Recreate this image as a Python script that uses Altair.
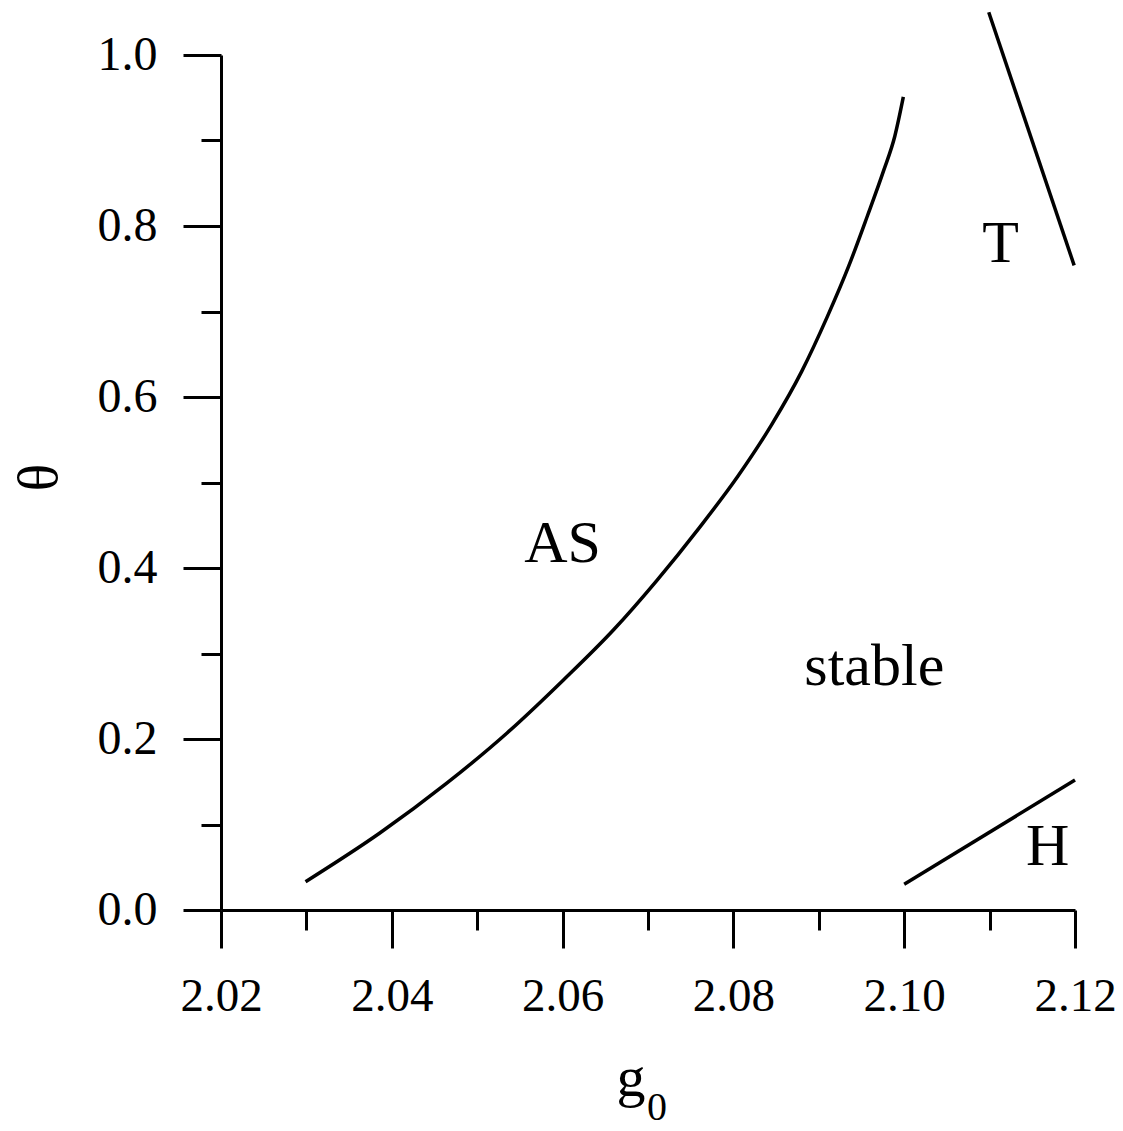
import altair as alt
import pandas as pd

# AS boundary curve
as_g0 = [2.0299, 2.0386, 2.0464, 2.0535, 2.0601, 2.0660, 2.0710, 2.0760, 2.0805,
         2.0845, 2.0880, 2.0910, 2.0935, 2.0957, 2.0976, 2.0989, 2.0999]
as_theta = [0.033, 0.090, 0.148, 0.207, 0.269, 0.328, 0.385, 0.447, 0.507,
            0.568, 0.630, 0.694, 0.753, 0.812, 0.865, 0.905, 0.951]
# T boundary
t_g0 = [2.1099, 2.1199]
t_theta = [1.050, 0.754]
# H boundary
h_g0 = [2.1000, 2.1200]
h_theta = [0.030, 0.152]

# region labels
lab_text = ["AS", "stable", "T", "H"]
lab_g0 = [2.0600, 2.0965, 2.1113, 2.1168]
lab_theta = [0.407, 0.263, 0.758, 0.053]

x_ticks = [2.02, 2.03, 2.04, 2.05, 2.06, 2.07, 2.08, 2.09, 2.10, 2.11, 2.12]
y_ticks = [0.0, 0.1, 0.2, 0.3, 0.4, 0.5, 0.6, 0.7, 0.8, 0.9, 1.0]

rows = []
for name, xs, ys in [("AS", as_g0, as_theta), ("T", t_g0, t_theta), ("H", h_g0, h_theta)]:
    for i, (a, b) in enumerate(zip(xs, ys)):
        rows.append({"curve": name, "g0": a, "theta": b, "order": i})
lines_df = pd.DataFrame(rows)
labels_df = pd.DataFrame({"text": lab_text, "g0": lab_g0, "theta": lab_theta})

FONT = "Liberation Serif"

x_scale = alt.Scale(domain=[2.02, 2.12], nice=False, zero=False)
y_scale = alt.Scale(domain=[0.0, 1.0], nice=False, zero=True)

x_axis = alt.Axis(
    values=x_ticks,
    title=None,
    grid=False,
    domainColor="black", domainWidth=3,
    tickColor="black", tickWidth=3,
    tickSize={"condition": {"test": "round(datum.value*100) % 2 == 0", "value": 38}, "value": 20},
    labelExpr="round(datum.value*100) % 2 == 0 ? format(datum.value, '.2f') : ''",
    labelFont=FONT, labelFontSize=47, labelColor="black",
    labelPadding=25, labelFlush=False, labelOverlap=False,
)
y_axis = alt.Axis(
    values=y_ticks,
    title="θ",
    titleFont=FONT, titleFontSize=58, titleFontWeight="normal", titleColor="black",
    titleAngle=270, titleAlign="center", titleBaseline="middle",
    titleX=-182, titleY=422,
    grid=False,
    domainColor="black", domainWidth=3,
    tickColor="black", tickWidth=3,
    tickSize={"condition": {"test": "round(datum.value*10) % 2 == 0", "value": 38}, "value": 20},
    labelExpr="round(datum.value*10) % 2 == 0 ? format(datum.value, '.1f') : ''",
    labelFont=FONT, labelFontSize=48, labelColor="black",
    labelPadding=26, labelFlush=False, labelOverlap=False,
)

lines = alt.Chart(lines_df).mark_line(color="black", strokeWidth=3.5, interpolate="monotone").encode(
    x=alt.X("g0:Q", scale=x_scale, axis=x_axis),
    y=alt.Y("theta:Q", scale=y_scale, axis=y_axis),
    detail="curve:N",
    order="order:Q",
)

labels = alt.Chart(labels_df).mark_text(
    font=FONT, fontSize=60, color="black", align="center", baseline="alphabetic"
).encode(
    x=alt.X("g0:Q", scale=x_scale),
    y=alt.Y("theta:Q", scale=y_scale),
    text="text:N",
)

one = pd.DataFrame({"a": [0]})
g_title = alt.Chart(one).mark_text(
    font=FONT, fontSize=58, color="black", align="center", baseline="alphabetic"
).encode(x=alt.value(410), y=alt.value(1041), text=alt.value("g"))
g_sub = alt.Chart(one).mark_text(
    font=FONT, fontSize=40, color="black", align="center", baseline="alphabetic"
).encode(x=alt.value(436), y=alt.value(1065), text=alt.value("0"))

chart = alt.layer(lines, labels, g_title, g_sub).properties(
    width=854, height=855,
    autosize=alt.AutoSizeParams(type="none"),
    padding={"left": 213, "top": 47, "right": 40, "bottom": 213},
).configure(background="white").configure_view(stroke=None, strokeWidth=0)

chart.save("out.html", embed_options={"renderer": "svg", "actions": False})
